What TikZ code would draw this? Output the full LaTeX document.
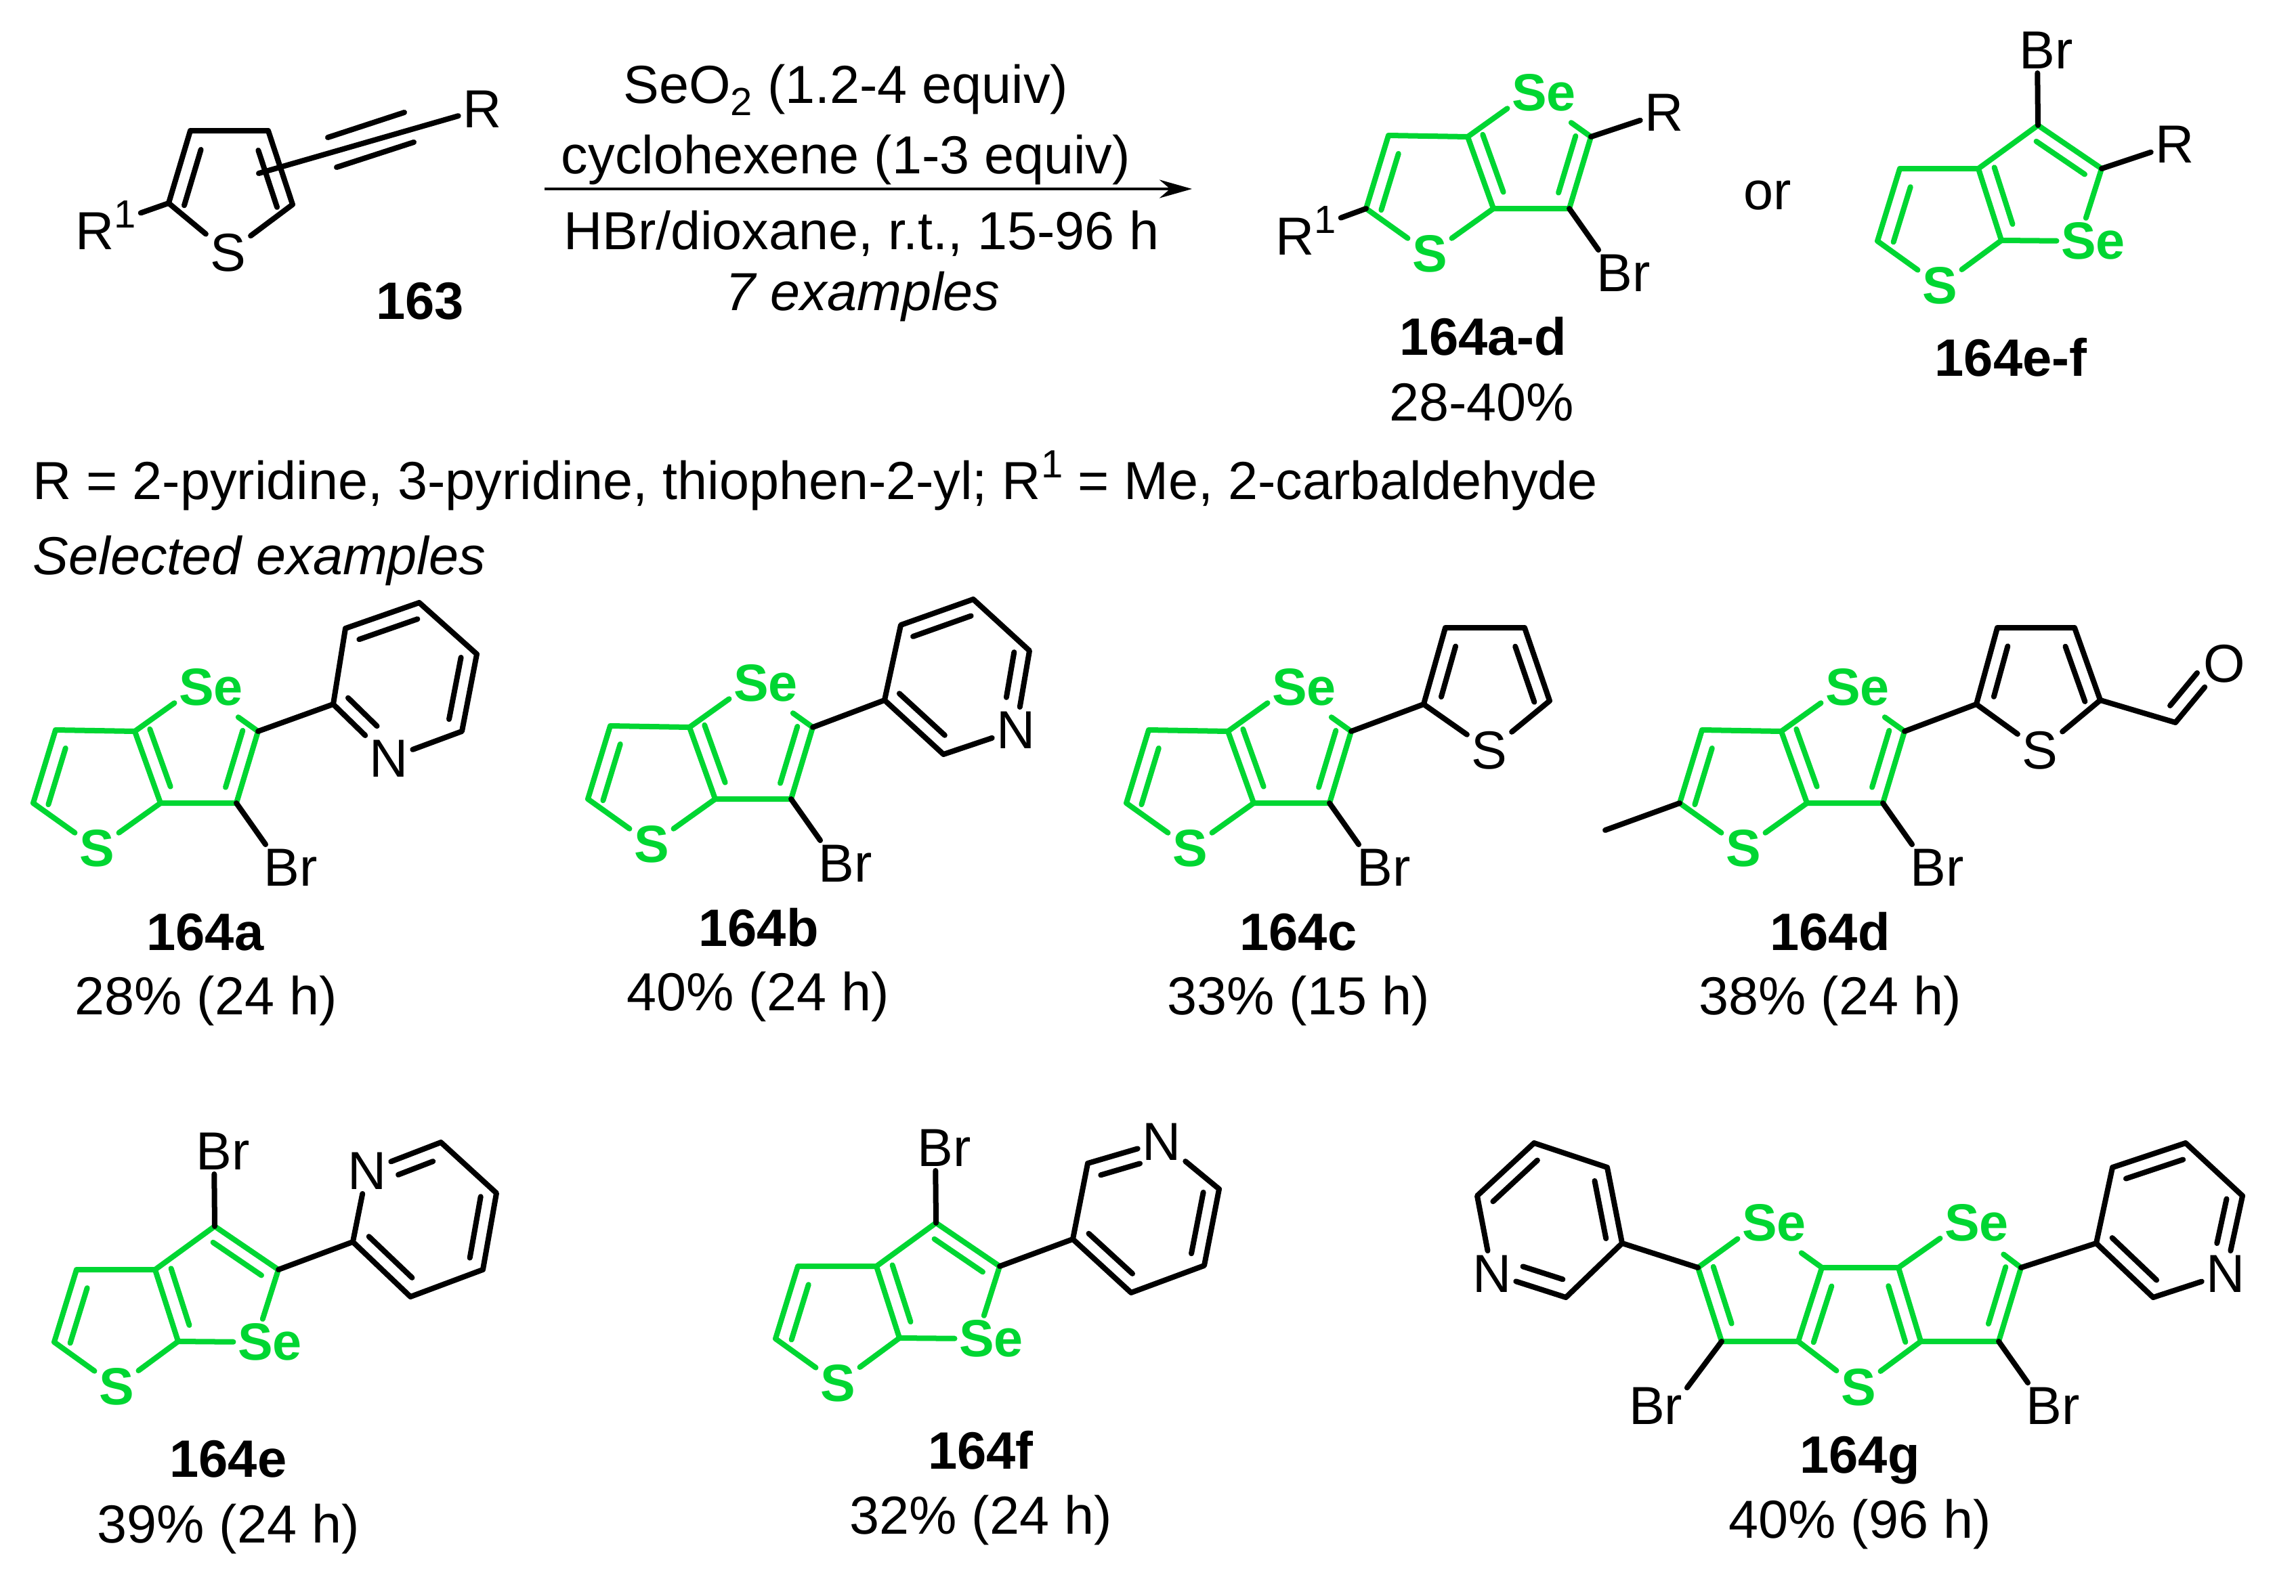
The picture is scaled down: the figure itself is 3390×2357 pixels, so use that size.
\documentclass[tikz,border=0pt]{standalone}
\usepackage{fontspec}
\setmainfont{Liberation Sans}
\usetikzlibrary{calc,arrows.meta}
\definecolor{selgreen}{HTML}{00D632}
\newcommand{\upone}{\raisebox{.31cm}{\fontsize{16.5}{16}\selectfont 1}}
\newcommand{\lowtwo}{\raisebox{-.18cm}{\fontsize{16.5}{16}\selectfont 2}}
% inner line of a double bond: {from}{to}{offset}{cut at from}{cut at to}
\newcommand{\dbl}[6][bond]{\draw[#1] ($(#2)!#5!(#3)!#4!90:(#3)$) -- ($(#3)!#6!(#2)!#4!-90:(#2)$);}
\tikzset{
  bond/.style={line width=.08cm,line cap=round,line join=round,black},
  gbond/.style={bond,selgreen},
  txt/.style={font=\fontsize{22.5}{27}\selectfont,inner sep=0pt},
  atom/.style={font=\fontsize{22.5}{27}\selectfont,inner sep=.06cm},
  gatom/.style={atom,font=\fontsize{22}{27}\selectfont\bfseries,text=selgreen},
  cpd/.style={font=\fontsize{22.1}{27}\selectfont\bfseries,inner sep=0pt,anchor=base},
  yld/.style={txt,anchor=base},
  toe/.style={shorten >=.36cm},
  corea/.pic={
    \coordinate (a2) at (0,0);
    \coordinate (a1) at (-117,-2);
    \coordinate (a3) at (38,106);
    \coordinate (a4) at (-150,106);
    \coordinate (C2) at (182,0);
    \coordinate (C3) at (150,106);
    \node[gatom] (S) at (-56,173) {S};
    \node[gatom] (Se) at (91,-65) {S\rlap{e}};
    \node[atom] (Br) at (217,201) {B\rlap{r}};
    \draw[gbond] (S) -- (a4) -- (a1) -- (a2) -- (a3) -- (S);
    \draw[gbond] (a3) -- (C3) -- (C2);
    \draw[gbond] (a2) -- (Se);
    \draw[gbond,toe] (C2) -- (Se);
    \dbl[gbond]{a1}{a4}{.22cm}{.19}{.04}
    \dbl[gbond]{a2}{a3}{.22cm}{.04}{.16}
    \dbl[gbond]{C2}{C3}{-.22cm}{.05}{.16}
    \draw[bond] (C3) -- (Br);
  },
  coreb/.pic={
    \coordinate (b2) at (0,0);
    \coordinate (b1) at (-116,0);
    \coordinate (b3) at (34,106);
    \coordinate (b4) at (-149,107);
    \coordinate (C3) at (88,-64);
    \coordinate (C2) at (182,0);
    \node[gatom] (S) at (-57,173) {S};
    \node[gatom] (Se) at (148,107) {S\rlap{e}};
    \node[atom] (Br) at (87,-175) {B\rlap{r}};
    \draw[gbond] (S) -- (b4) -- (b1) -- (b2) -- (b3) -- (S);
    \draw[gbond] (b2) -- (C3) -- (C2) -- (Se);
    \draw[gbond] (b3) -- (Se);
    \dbl[gbond]{b1}{b4}{.23cm}{.19}{.05}
    \dbl[gbond]{b2}{b3}{.23cm}{.05}{.16}
    \dbl[gbond]{C3}{C2}{-.21cm}{.10}{.14}
    \draw[bond] (C3) -- (Br);
  },
}
\begin{document}
\begin{tikzpicture}[x=.01cm,y=-.01cm]
  \useasboundingbox (0,0) rectangle (3390,2357);

  % starting material
  \coordinate (t1) at (281,193);
  \coordinate (t2) at (396,193);
  \coordinate (t3) at (432,302);
  \coordinate (t4) at (249,300);
  \coordinate (y1) at (382,256);
  \node[atom] (S163) at (337,373) {S};
  \node[atom] (R163) at (712,161) {R};
  \node[atom,anchor=base west] (Ra163) at (105,368) {R\upone};
  \draw[bond] (S163) -- (t4) -- (t1) -- (t2) -- (t3) -- (S163);
  \dbl{t1}{t4}{.23cm}{.2}{.03}
  \dbl{t2}{t3}{-.23cm}{.2}{.03}
  \draw[bond] (t4) -- (Ra163);
  \draw[bond] (y1) -- (R163);
  \coordinate (y2) at (484,203);
  \coordinate (y3) at (597,166);
  \coordinate (y4) at (497,247);
  \coordinate (y5) at (611,210);
  \draw[bond] (y2) -- (y3);
  \draw[bond] (y4) -- (y5);
  \node[cpd] (l163) at (620,471) {163};

  % arrow and conditions
  \coordinate (ar1) at (804,279);
  \coordinate (ar2) at (1760,279);
  \draw[line width=.04cm,-{Stealth[length=.48cm,width=.27cm]}] (ar1) -- (ar2);
  \node[yld] (c1) at (1249,152) {SeO\lowtwo{} (1.2-4 equiv)};
  \node[yld] (c2) at (1249,256) {cyclohexene (1-3 equiv)};
  \node[yld] (c3) at (1272,368) {HBr/dioxane, r.t., 15-96 h};
  \node[yld] (c4) at (1274,458) {\itshape 7 examples};

  % products
  \pic (pa) at (2167,202) {corea};
  \node[atom] (Rpa) at (2457,166) {R};
  \node[atom,anchor=base west] (Rapa) at (1877,376) {R\upone};
  \draw[bond] (paC2) -- (Rpa);
  \draw[bond] (paa4) -- (Rapa);
  \node[cpd] (lpa) at (2190,524) {164a-d};
  \node[yld] (ypa) at (2188,621) {28-40\%};
  \node[yld] (or1) at (2610,309) {or};
  \pic (pb) at (2921,249) {coreb};
  \node[atom] (Rpb) at (3211,213) {R};
  \draw[bond] (pbC2) -- (Rpb);
  \node[cpd] (lpb) at (2969,555) {164e-f};

  \node[txt,anchor=base west] (rlist) at (48,737) {R = 2-pyridine, 3-pyridine, thiophen-2-yl; R\upone{} = Me, 2-carbaldehyde};
  \node[txt,anchor=base west] (sel) at (48,848) {\itshape Selected examples};

  % 164a
  \pic (a) at (199,1080) {corea};
  \coordinate (ac1) at (492,1040);
  \coordinate (ac2) at (510,928);
  \coordinate (ac3) at (619,890);
  \coordinate (ac4) at (704,966);
  \coordinate (ac5) at (682,1080);
  \node[atom] (aN) at (574,1120) {N};
  \draw[bond] (aC2) -- (ac1) -- (ac2) -- (ac3) -- (ac4) -- (ac5) -- (aN) -- (ac1);
  \dbl{ac1}{aN}{.22cm}{.08}{.4}
  \dbl{ac2}{ac3}{-.22cm}{.12}{.09}
  \dbl{ac4}{ac5}{-.22cm}{.08}{.12}
  \node[cpd] (la) at (303,1403) {164a};
  \node[yld] (ya) at (304,1498) {28\% (24 h)};

  % 164b
  \pic (b) at (1018,1074) {corea};
  \coordinate (bc1) at (1306,1034);
  \coordinate (bc2) at (1330,923);
  \coordinate (bc3) at (1437,885);
  \coordinate (bc4) at (1520,961);
  \coordinate (bc6) at (1393,1114);
  \node[atom] (bN) at (1500,1078) {N};
  \draw[bond] (bC2) -- (bc1) -- (bc2) -- (bc3) -- (bc4) -- (bN) -- (bc6) -- (bc1);
  \dbl{bc1}{bc6}{.22cm}{.08}{.15}
  \dbl{bc2}{bc3}{-.22cm}{.1}{.1}
  \dbl{bc4}{bN}{-.22cm}{.05}{.38}
  \node[cpd] (lb) at (1120,1397) {164b};
  \node[yld] (yb) at (1119,1492) {40\% (24 h)};

  % 164c
  \pic (c) at (1813,1080) {corea};
  \coordinate (cc1) at (2102,1040);
  \coordinate (cc2) at (2134,927);
  \coordinate (cc3) at (2251,927);
  \coordinate (cc4) at (2288,1035);
  \node[atom] (cS) at (2199,1108) {S};
  \draw[bond] (cC2) -- (cc1) -- (cc2) -- (cc3) -- (cc4) -- (cS) -- (cc1);
  \dbl{cc1}{cc2}{-.22cm}{.15}{.19}
  \dbl{cc3}{cc4}{-.22cm}{.19}{.05}
  \node[cpd] (lc) at (1917,1403) {164c};
  \node[yld] (yc) at (1917,1498) {33\% (15 h)};

  % 164d
  \pic (d) at (2630,1080) {corea};
  \coordinate (dm) at (2370,1226);
  \coordinate (dc1) at (2918,1040);
  \coordinate (dc2) at (2949,927);
  \coordinate (dc3) at (3063,927);
  \coordinate (dc4) at (3101,1034);
  \coordinate (dc5) at (3212,1067);
  \node[atom] (dS) at (3012,1108) {S};
  \node[atom] (dO) at (3284,980) {O};
  \draw[bond] (da4) -- (dm);
  \draw[bond] (dC2) -- (dc1) -- (dc2) -- (dc3) -- (dc4) -- (dS) -- (dc1);
  \draw[bond] (dc4) -- (dc5) -- (dO);
  \dbl{dc1}{dc2}{-.22cm}{.15}{.19}
  \dbl{dc3}{dc4}{-.22cm}{.19}{.05}
  \dbl{dc5}{dO}{.22cm}{.125}{.32}
  \node[cpd] (ld) at (2702,1403) {164d};
  \node[yld] (yd) at (2702,1498) {38\% (24 h)};

  % 164e
  \pic (e) at (229,1875) {coreb};
  \coordinate (ec1) at (521,1834);
  \coordinate (ec3) at (651,1687);
  \coordinate (ec4) at (733,1762);
  \coordinate (ec5) at (713,1875);
  \coordinate (ec6) at (606,1915);
  \node[atom] (eN) at (542,1729) {N};
  \draw[bond] (eC2) -- (ec1) -- (eN) -- (ec3) -- (ec4) -- (ec5) -- (ec6) -- (ec1);
  \dbl{ec3}{eN}{.22cm}{.18}{.35}
  \dbl{ec4}{ec5}{-.22cm}{.08}{.12}
  \dbl{ec1}{ec6}{.22cm}{.1}{.15}
  \node[cpd] (le) at (337,2181) {164e};
  \node[yld] (ye) at (337,2278) {39\% (24 h)};

  % 164f
  \pic (f) at (1294,1870) {coreb};
  \coordinate (fc1) at (1584,1830);
  \coordinate (fc2) at (1606,1718);
  \coordinate (fc4) at (1800,1756);
  \coordinate (fc5) at (1778,1869);
  \coordinate (fc6) at (1670,1909);
  \node[atom] (fN) at (1715,1686) {N};
  \draw[bond] (fC2) -- (fc1) -- (fc2) -- (fN) -- (fc4) -- (fc5) -- (fc6) -- (fc1);
  \dbl{fc2}{fN}{-.22cm}{.12}{.35}
  \dbl{fc4}{fc5}{-.22cm}{.08}{.12}
  \dbl{fc1}{fc6}{.22cm}{.1}{.15}
  \node[cpd] (lf) at (1448,2169) {164f};
  \node[yld] (yf) at (1448,2265) {32\% (24 h)};

  % 164g
  \coordinate (g1) at (2690,1872);
  \coordinate (g2) at (2803,1872);
  \coordinate (g3) at (2836,1981);
  \coordinate (g4) at (2655,1981);
  \coordinate (gl2) at (2507,1872);
  \coordinate (gl3) at (2542,1981);
  \coordinate (gr2) at (2984,1872);
  \coordinate (gr3) at (2951,1981);
  \node[gatom] (gS) at (2744,2049) {S};
  \node[gatom] (gSel) at (2598,1806) {S\rlap{e}};
  \node[gatom] (gSer) at (2897,1806) {S\rlap{e}};
  \node[atom] (gBrl) at (2471,2076) {\llap{B}r};
  \node[atom] (gBrr) at (3018,2076) {B\rlap{r}};
  \draw[gbond] (gS) -- (g4) -- (g1) -- (g2) -- (g3) -- (gS);
  \draw[gbond] (g4) -- (gl3) -- (gl2) -- (gSel);
  \draw[gbond] (g3) -- (gr3) -- (gr2);
  \draw[gbond,toe] (g1) -- (gSel);
  \draw[gbond] (g2) -- (gSer);
  \draw[gbond,toe] (gr2) -- (gSer);
  \dbl[gbond]{gl2}{gl3}{.22cm}{.05}{.18}
  \dbl[gbond]{g1}{g4}{.22cm}{.19}{.05}
  \dbl[gbond]{g2}{g3}{-.22cm}{.19}{.05}
  \dbl[gbond]{gr2}{gr3}{-.22cm}{.05}{.18}
  \draw[bond] (gl3) -- (gBrl);
  \draw[bond] (gr3) -- (gBrr);
  \coordinate (gc1) at (2395,1836);
  \coordinate (gc2) at (2373,1724);
  \coordinate (gc3) at (2265,1688);
  \coordinate (gc4) at (2181,1766);
  \coordinate (gc6) at (2312,1916);
  \node[atom] (gNl) at (2203,1881) {N};
  \draw[bond] (gl2) -- (gc1) -- (gc2) -- (gc3) -- (gc4) -- (gNl) -- (gc6) -- (gc1);
  \dbl{gc1}{gc2}{.22cm}{.1}{.14}
  \dbl{gc3}{gc4}{.22cm}{.12}{.1}
  \dbl{gc6}{gNl}{-.24cm}{.11}{.35}
  \coordinate (gd1) at (3095,1836);
  \coordinate (gd2) at (3119,1724);
  \coordinate (gd3) at (3227,1688);
  \coordinate (gd4) at (3311,1766);
  \coordinate (gd6) at (3179,1916);
  \node[atom] (gNr) at (3286,1881) {N};
  \draw[bond] (gr2) -- (gd1) -- (gd2) -- (gd3) -- (gd4) -- (gNr) -- (gd6) -- (gd1);
  \dbl{gd2}{gd3}{-.22cm}{.12}{.1}
  \dbl{gd4}{gNr}{-.22cm}{.08}{.35}
  \dbl{gd1}{gd6}{.22cm}{.1}{.12}
  \node[cpd] (lg) at (2746,2175) {164g};
  \node[yld] (yg) at (2746,2271) {40\% (96 h)};
\end{tikzpicture}
\end{document}
